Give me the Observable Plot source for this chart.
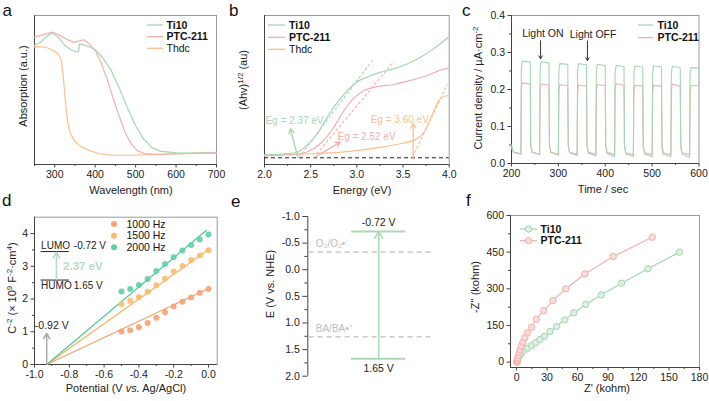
<!DOCTYPE html>
<html><head><meta charset="utf-8">
<script src="https://cdn.jsdelivr.net/npm/d3@7"></script>
<script src="https://cdn.jsdelivr.net/npm/@observablehq/plot@0.6"></script>
<style>
html,body{margin:0;padding:0;background:#fff;}
#root{position:relative;width:709px;height:401px;overflow:hidden;background:#fff;}
#root svg{position:absolute;left:0;top:0;}
</style></head><body><div id="root"></div>
<script>
// ================= DATA =================
// Panel a: UV-vis absorption (normalised), [wavelength nm, absorption]
const aTi10 = [[250,0.80],[265,0.82],[280,0.86],[295,0.885],[310,0.85],[325,0.80],[340,0.77],[355,0.755],[359,0.76],[361,0.81],[375,0.80],[390,0.785],[400,0.77],[420,0.71],[440,0.63],[460,0.51],[480,0.38],[500,0.26],[520,0.17],[540,0.115],[560,0.09],[600,0.078],[700,0.075]];
const aPTC = [[250,0.855],[270,0.87],[294,0.888],[310,0.87],[330,0.84],[348,0.82],[362,0.83],[372,0.837],[385,0.81],[400,0.765],[415,0.68],[430,0.57],[445,0.44],[460,0.32],[475,0.21],[490,0.135],[505,0.092],[520,0.075],[550,0.068],[600,0.072],[700,0.082]];
const aThdc = [[250,0.79],[270,0.79],[285,0.78],[300,0.76],[310,0.735],[316,0.70],[320,0.62],[324,0.50],[328,0.38],[333,0.27],[340,0.20],[350,0.155],[365,0.12],[385,0.095],[410,0.072],[440,0.063],[480,0.062],[550,0.066],[620,0.072],[700,0.08]];
const aTicks = [300,400,500,600,700];
const aMinor = [250,350,450,550,650];

// Panel b: Tauc plot, [energy eV, (Ahv)^1/2 normalised]
const bTi10 = [[2.0,0.065],[2.2,0.07],[2.35,0.082],[2.46,0.128],[2.57,0.206],[2.68,0.318],[2.79,0.418],[2.9,0.497],[3.0,0.553],[3.11,0.586],[3.26,0.62],[3.4,0.642],[3.55,0.676],[3.69,0.72],[3.83,0.776],[4.0,0.859]];
const bPTC = [[2.0,0.058],[2.39,0.072],[2.53,0.105],[2.64,0.161],[2.75,0.25],[2.86,0.362],[2.97,0.447],[3.08,0.497],[3.22,0.523],[3.4,0.537],[3.58,0.564],[3.76,0.597],[3.91,0.635],[4.0,0.649]];
const bThdc = [[2.0,0.06],[2.5,0.072],[2.86,0.085],[3.22,0.112],[3.47,0.139],[3.65,0.172],[3.74,0.228],[3.82,0.34],[3.89,0.43],[3.94,0.456],[4.0,0.463]];
const bBaseline = [0.045];
const bTangents = [
  {s:"Ti10", x1:2.37, y1:0.045, x2:3.17, y2:0.70},
  {s:"PTC-211", x1:2.53, y1:0.045, x2:3.40, y2:0.69},
  {s:"Thdc", x1:3.60, y1:0.045, x2:3.98, y2:0.54}
];
const bArrows = [
  {s:"Ti10", x1:2.36, y1:0.05, x2:2.28, y2:0.24},
  {s:"PTC-211", x1:2.55, y1:0.05, x2:2.82, y2:0.15},
  {s:"Thdc", x1:3.61, y1:0.05, x2:3.61, y2:0.275}
];
const bLabels = [
  {s:"Ti10", x:2.01, y:0.295, text:"Eg = 2.37 eV"},
  {s:"PTC-211", x:2.79, y:0.183, text:"Eg = 2.52 eV"},
  {s:"Thdc", x:3.15, y:0.30, text:"Eg = 3.60 eV"}
];
const bTicks = [2.0,2.5,3.0,3.5,4.0];
const bMinor = [2.25,2.75,3.25,3.75];

// Panel c: photocurrent, time (s) and current density
const cTime = [200,204,220,221,223,240,241,244,260,261,263,280,281,284,300,301,303,320,321,324,340,341,343,360,361,364,380,381,383,400,401,404,420,421,423,440,441,444,460,461,463,480,481,484,500,501,503,520,521,524,540,541,543,560,561,564,580,581,583,600];
const cTi10 = [0.050,0.032,
 0.025,0.255,0.277,0.274,0.050,0.031,
 0.024,0.254,0.275,0.272,0.050,0.030,
 0.023,0.250,0.270,0.268,0.048,0.029,
 0.022,0.250,0.270,0.267,0.048,0.028,
 0.021,0.248,0.268,0.265,0.046,0.027,
 0.019,0.245,0.265,0.262,0.045,0.026,
 0.019,0.243,0.263,0.261,0.045,0.026,
 0.018,0.244,0.264,0.261,0.045,0.025,
 0.018,0.243,0.263,0.259,0.045,0.025,
 0.017,0.240,0.259,0.258];
const cPTC = [0.042,0.030,
 0.026,0.200,0.218,0.214,0.050,0.030,
 0.025,0.198,0.215,0.212,0.050,0.030,
 0.025,0.196,0.213,0.211,0.050,0.030,
 0.025,0.195,0.212,0.209,0.050,0.030,
 0.025,0.196,0.213,0.211,0.050,0.030,
 0.024,0.198,0.216,0.211,0.050,0.029,
 0.024,0.193,0.211,0.210,0.050,0.029,
 0.024,0.193,0.211,0.209,0.050,0.029,
 0.024,0.197,0.215,0.208,0.050,0.029,
 0.024,0.193,0.210,0.211];
const cNotes = [{text:"Light ON", x:267, y:0.35, ax:262, ay1:0.332, ay2:0.283},
                {text:"Light OFF", x:374, y:0.349, ax:362, ay1:0.331, ay2:0.278}];
const cXTicks = [200,300,400,500,600], cXMinor = [250,350,450,550];
const cYTicks = [0,0.1,0.2,0.3,0.4], cYMinor = [0.05,0.15,0.25,0.35];

// Panel d: Mott-Schottky
const dV = [-0.5,-0.45,-0.4,-0.35,-0.3,-0.25,-0.2,-0.15,-0.1,-0.05,0];
const d1000 = [1.01,1.05,1.14,1.27,1.43,1.60,1.77,1.92,2.05,2.19,2.31];
const d1500 = [1.85,1.95,2.06,2.22,2.42,2.62,2.84,3.01,3.19,3.33,3.49];
const d2000 = [2.23,2.31,2.43,2.61,2.86,3.07,3.28,3.48,3.65,3.82,3.97];
const dFits = [
  {f:"1000 Hz", x1:-0.93, y1:0, x2:0, y2:2.32},
  {f:"1500 Hz", x1:-0.93, y1:0, x2:0, y2:3.51},
  {f:"2000 Hz", x1:-0.93, y1:0, x2:-0.01, y2:4.11}
];
const dLevels = [{y:3.45, label:"LUMO", value:"-0.72 V", ty:3.62}, {y:2.58, label:"HUMO", value:"1.65 V", ty:2.40}];
const dLevelX = [-0.962, -0.800];
const dGap = {x:-0.874, y1:2.60, y2:3.43, text:"2.37 eV", tx:-0.836, ty:3.0};
const dFlat = {x:-0.93, y1:0, y2:0.95, text:"-0.92 V", tx:-0.998, ty:1.18};
const dXTicks = [-1.0,-0.8,-0.6,-0.4,-0.2,0.0], dXMinor = [-0.9,-0.7,-0.5,-0.3,-0.1];
const dYTicks = [0,1,2,3,4], dYMinor = [0.5,1.5,2.5,3.5];

// Panel e: band positions (V vs NHE)
const eRedox = [{E:-0.33, label:"O₂/O₂•⁻"}, {E:1.26, label:"BA/BA•⁺"}];
const eCB = [{E:-0.72, label:"-0.72 V"}];
const eVB = [{E:1.67, label:"1.65 V"}];
const eTicks = [-1.0,-0.5,0.0,0.5,1.0,1.5,2.0], eMinor = [-0.75,-0.25,0.25,0.75,1.25,1.75];

// Panel f: Nyquist, Z' and -Z'' (kohm)
const fTi10Z = [0.3,0.7,1.3,2.6,4.6,7.5,10.8,14.8,18.7,23.0,27.5,32.8,39.3,47.5,56.4,67.9,83.3,103.3,129.2,160.3];
const fTi10Y = [0,5,14,25,35,48,57,68,80,93,106,125,146,173,202,236,275,323,382,450];
const fPTCZ = [0.3,0.7,1.0,1.3,2.0,2.6,3.6,4.6,6.2,8.2,10.8,14.8,19.3,26.6,35.7,48.5,67.2,95.1,133.5];
const fPTCY = [0,4,10,18,27,38,52,65,82,100,120,143,175,210,252,300,361,432,511];
const fXTicks = [0,30,60,90,120,150,180], fXMinor = [15,45,75,105,135,165];
const fYTicks = [0,150,300,450,600], fYMinor = [75,225,375,525];

// ================= STYLE =================
const FONT = '"Liberation Sans", Arial, Helvetica, sans-serif';
const COL = {"Ti10":"#a6d6b2", "PTC-211":"#f2b0ae", "Thdc":"#fcbf8e"};
const DCOL = {"1000 Hz":"#f6a274", "1500 Hz":"#fbbb6a", "2000 Hz":"#5fcfa2"};
const DLINE = {"1000 Hz":"#f49f6c", "1500 Hz":"#f8b262", "2000 Hz":"#4fc89c"};
const FRAME = "#9a9a9a", AX = "#444", TXT = "#222";
const root = document.getElementById("root");
function place(o){
  const svg = Plot.plot(Object.assign({width:709, height:401,
    style:{background:"transparent", fontFamily:FONT, fontSize:"10.5px", color:TXT}}, o));
  root.appendChild(svg);
  return svg;
}
const pairs = a => a.map(d => ({x:d[0], y:d[1]}));
const f1 = d => d.toFixed(1);
function boxAxes(xt, xm, yt, ym, xfmt, yfmt){
  const m = [
    Plot.axisX(xt, {tickSize:3.5, tickPadding:3, tickFormat:xfmt, label:null, stroke:AX, fill:TXT, fontSize:10.5}),
    Plot.axisX(xm, {tickSize:2, label:null, stroke:AX, fill:"none"})
  ];
  if (yt) m.push(Plot.axisY(yt, {tickSize:3.5, tickPadding:3, tickFormat:yfmt, label:null, stroke:AX, fill:TXT, fontSize:10.5}));
  if (ym) m.push(Plot.axisY(ym, {tickSize:2, label:null, stroke:AX, fill:"none"}));
  return m;
}

// ---------- panel a ----------
place({
  marginLeft:34, marginRight:493, marginTop:15, marginBottom:237,
  x:{domain:[250,700], axis:null, label:null},
  y:{domain:[0,1], axis:null, label:null},
  marks:[
    Plot.frame({stroke:FRAME}),
    Plot.ruleY([0],{stroke:AX}), Plot.ruleX([250],{stroke:AX}),
    ...boxAxes(aTicks, aMinor, null, null, d=>String(d)),
    Plot.line(pairs(aThdc), {x:"x", y:"y", stroke:COL["Thdc"], strokeWidth:1.2}),
    Plot.line(pairs(aPTC), {x:"x", y:"y", stroke:COL["PTC-211"], strokeWidth:1.2}),
    Plot.line(pairs(aTi10), {x:"x", y:"y", stroke:COL["Ti10"], strokeWidth:1.2})
  ]
});

// ---------- panel b ----------
place({
  marginLeft:264, marginRight:260.3, marginTop:15, marginBottom:237,
  x:{domain:[2.0,4.0], axis:null, label:null},
  y:{domain:[0,1], axis:null, label:null},
  marks:[
    Plot.frame({stroke:FRAME}),
    Plot.ruleY([0],{stroke:AX}), Plot.ruleX([2.0],{stroke:AX}),
    ...boxAxes(bTicks, bMinor, null, null, f1),
    Plot.ruleY(bBaseline, {stroke:"#222", strokeDasharray:"4,3"}),
    Plot.link(bTangents, {x1:"x1", y1:"y1", x2:"x2", y2:"y2", stroke:d=>COL[d.s], strokeDasharray:"3,2", strokeWidth:1.1}),
    Plot.line(pairs(bThdc), {x:"x", y:"y", curve:"monotone-x", stroke:COL["Thdc"], strokeWidth:1.2}),
    Plot.line(pairs(bPTC), {x:"x", y:"y", curve:"monotone-x", stroke:COL["PTC-211"], strokeWidth:1.2}),
    Plot.line(pairs(bTi10), {x:"x", y:"y", curve:"monotone-x", stroke:COL["Ti10"], strokeWidth:1.2}),
    Plot.arrow(bArrows, {x1:"x1", y1:"y1", x2:"x2", y2:"y2", stroke:d=>COL[d.s], strokeWidth:1.3, headLength:6}),
    Plot.text(bLabels, {x:"x", y:"y", text:"text", fill:d=>COL[d.s], textAnchor:"start", fontSize:10})
  ]
});

// ---------- panel c ----------
const cTi10Data = cTime.map((t,i) => ({t, v:cTi10[i]}));
const cPTCData = cTime.map((t,i) => ({t, v:cPTC[i]}));
place({
  marginLeft:511, marginRight:10.5, marginTop:15, marginBottom:238,
  x:{domain:[200,600], axis:null, label:null},
  y:{domain:[0,0.4], axis:null, label:null},
  marks:[
    Plot.frame({stroke:FRAME}),
    Plot.ruleY([0],{stroke:AX}), Plot.ruleX([200],{stroke:AX}),
    ...boxAxes(cXTicks, cXMinor, cYTicks, cYMinor, d=>String(d), f1),
    Plot.line(cPTCData, {x:"t", y:"v", stroke:COL["PTC-211"], strokeWidth:1.1}),
    Plot.line(cTi10Data, {x:"t", y:"v", stroke:COL["Ti10"], strokeWidth:1.1}),
    Plot.arrow(cNotes, {x1:"ax", y1:"ay1", x2:"ax", y2:"ay2", stroke:"#333", strokeWidth:1, headLength:5}),
    Plot.text(cNotes, {x:"x", y:"y", text:"text", fill:TXT, fontSize:10.5})
  ]
});

// ---------- panel d ----------
const dData = [];
dV.forEach((v,i) => { dData.push({v, c:d1000[i], f:"1000 Hz"}); dData.push({v, c:d1500[i], f:"1500 Hz"}); dData.push({v, c:d2000[i], f:"2000 Hz"}); });
place({
  marginLeft:34, marginRight:492.3, marginTop:216.7, marginBottom:37,
  x:{domain:[-1.0,0.05], axis:null, label:null},
  y:{domain:[0,4.5], axis:null, label:null},
  marks:[
    Plot.frame({stroke:FRAME}),
    Plot.ruleY([0],{stroke:AX}), Plot.ruleX([-1.0],{stroke:AX}),
    ...boxAxes(dXTicks, dXMinor, dYTicks, dYMinor, f1, d=>String(d)),
    Plot.link(dFits, {x1:"x1", y1:"y1", x2:"x2", y2:"y2", stroke:d=>DLINE[d.f], strokeWidth:1.2}),
    Plot.dot(dData, {x:"v", y:"c", r:3, fill:d=>DCOL[d.f], fillOpacity:0.9}),
    Plot.ruleY(dLevels, {y:"y", x1:dLevelX[0], x2:dLevelX[1], stroke:"#222", strokeWidth:1}),
    Plot.text(dLevels, {x:dLevelX[0], y:"ty", text:"label", textAnchor:"start", fill:TXT, fontSize:10}),
    Plot.text(dLevels, {x:dLevelX[1], y:"ty", text:"value", textAnchor:"start", dx:4.5, fill:TXT, fontSize:10}),
    Plot.arrow([dGap], {x1:"x", y1:"y1", x2:"x", y2:"y2", stroke:"#b9d9c2", strokeWidth:1.6, headLength:6}),
    Plot.text([dGap], {x:"tx", y:"ty", text:"text", textAnchor:"start", fill:"#b5dbc0", fontWeight:"bold", fontSize:11.5}),
    Plot.arrow([dFlat], {x1:"x", y1:"y1", x2:"x", y2:"y2", stroke:"#aaaaaa", strokeWidth:1.5, headLength:6}),
    Plot.text([dFlat], {x:"tx", y:"ty", text:"text", textAnchor:"start", fill:TXT, fontSize:10.5})
  ]
});

// ---------- panel e ----------
place({
  marginLeft:307.3, marginRight:269, marginTop:216, marginBottom:25.3,
  x:{domain:[0,1], axis:null, label:null},
  y:{domain:[-1,2], reverse:true, axis:null, label:null},
  marks:[
    Plot.ruleX([0], {y1:-1, y2:2, stroke:AX}),
    Plot.axisY(eTicks, {tickSize:5, tickPadding:3, tickFormat:f1, label:null, stroke:AX, fill:TXT, fontSize:10.5}),
    Plot.axisY(eMinor, {tickSize:3, label:null, stroke:AX, fill:"none"}),
    Plot.ruleY(eRedox, {y:"E", x1:0.01, x2:0.95, stroke:"#bdbdbd", strokeDasharray:"5,4", strokeWidth:1.2}),
    Plot.text(eRedox, {x:0.06, y:"E", dy:-8, text:"label", textAnchor:"start", fill:"#bdbdbd", fontSize:10}),
    Plot.ruleY(eCB.concat(eVB), {y:"E", x1:0.33, x2:0.737, stroke:"#a9d9b2", strokeWidth:2}),
    Plot.arrow([{y1:eVB[0].E, y2:eCB[0].E}], {x1:0.534, x2:0.534, y1:"y1", y2:"y2", stroke:"#a9d9b2", strokeWidth:1.5, headLength:8}),
    Plot.text(eCB, {x:0.534, y:"E", dy:-9, text:"label", fill:TXT, fontSize:10.5}),
    Plot.text(eVB, {x:0.534, y:"E", dy:10, text:"label", fill:TXT, fontSize:10.5})
  ]
});

// ---------- panel f ----------
const fTi10 = fTi10Z.map((z,i)=>({z, y:fTi10Y[i]}));
const fPTC = fPTCZ.map((z,i)=>({z, y:fPTCY[i]}));
place({
  marginLeft:510, marginRight:10, marginTop:215, marginBottom:34,
  x:{domain:[-6,180], axis:null, label:null},
  y:{domain:[-22,600], axis:null, label:null},
  marks:[
    Plot.frame({stroke:FRAME}),
    Plot.ruleY([-22],{stroke:AX}), Plot.ruleX([-6],{stroke:AX}),
    ...boxAxes(fXTicks, fXMinor, fYTicks, fYMinor, d=>String(d), d=>String(d)),
    Plot.line(fTi10, {x:"z", y:"y", stroke:COL["Ti10"], strokeWidth:1.2}),
    Plot.dot(fTi10, {x:"z", y:"y", r:3.2, fill:"#dcefe1", stroke:COL["Ti10"], strokeWidth:1}),
    Plot.line(fPTC, {x:"z", y:"y", stroke:COL["PTC-211"], strokeWidth:1.2}),
    Plot.dot(fPTC, {x:"z", y:"y", r:3.2, fill:"#fadcdb", stroke:COL["PTC-211"], strokeWidth:1})
  ]
});

// ================= OVERLAY: titles, legends, panel letters =================
const ov = d3.select(root).append("svg").attr("width",709).attr("height",401)
  .style("font-family", FONT).attr("fill", TXT);

function title(x, y, parts, rotate){
  const t = ov.append("text").attr("text-anchor","middle").attr("font-size",11).attr("fill",TXT);
  if (rotate) t.attr("transform",`translate(${x},${y}) rotate(-90)`).attr("dy","0.35em");
  else t.attr("x",x).attr("y",y);
  parts.forEach(p => {
    const s = t.append("tspan").text(p.t);
    if (p.sup) s.attr("baseline-shift","super").attr("font-size",8);
    if (p.it) s.attr("font-style","italic");
  });
}
title(23, 86, [{t:"Absorption (a.u.)"}], true);
title(131, 194, [{t:"Wavelength (nm)"}]);
title(243.5, 80, [{t:"(Ahv)"},{t:"1/2",sup:true},{t:" (au)"}], true);
title(362, 194, [{t:"Energy (eV)"}]);
title(478, 88, [{t:"Current density / µA·cm"},{t:"-2",sup:true}], true);
title(603, 192.5, [{t:"Time / sec"}]);
title(12, 288, [{t:"C"},{t:"-2",sup:true},{t:" (× 10"},{t:"9",sup:true},{t:" F"},{t:"-2",sup:true},{t:"·cm"},{t:"4",sup:true},{t:")"}], true);
title(126, 392, [{t:"Potential (V "},{t:"vs.",it:true},{t:" Ag/AgCl)"}]);
title(270, 284, [{t:"E (V vs. NHE)"}], true);
title(475, 287, [{t:"-Z'' (kohm)"}], true);
title(607, 392, [{t:"Z' (kohm)"}]);

function legendLine(x1, x2, tx, y, label, color, bold, dot){
  ov.append("line").attr("x1",x1).attr("x2",x2).attr("y1",y).attr("y2",y).attr("stroke",color).attr("stroke-width",1.3);
  if (dot) ov.append("circle").attr("cx",(x1+x2)/2).attr("cy",y).attr("r",3.2).attr("fill",dot).attr("stroke",color);
  ov.append("text").attr("x",tx).attr("y",y).attr("dy","0.35em").attr("font-size",10.5)
    .attr("font-weight", bold ? "bold" : "normal").attr("fill","#111").text(label);
}
const legA = [{s:"Ti10", y:25, b:true}, {s:"PTC-211", y:36.7, b:true}, {s:"Thdc", y:48.3, b:false}];
legA.forEach(d => legendLine(147, 163, 166.5, d.y, d.s, COL[d.s], d.b));
const legB = [{s:"Ti10", y:25, b:true}, {s:"PTC-211", y:37.3, b:true}, {s:"Thdc", y:49.3, b:false}];
legB.forEach(d => legendLine(268, 285, 289, d.y, d.s, COL[d.s], d.b));
const legC = [{s:"Ti10", y:25}, {s:"PTC-211", y:37.7}];
legC.forEach(d => legendLine(638, 653, 657.5, d.y, d.s, COL[d.s], true));
const legD = [{f:"1000 Hz", y:224}, {f:"1500 Hz", y:235.7}, {f:"2000 Hz", y:247.3}];
legD.forEach(d => {
  ov.append("circle").attr("cx",114).attr("cy",d.y).attr("r",3).attr("fill",DCOL[d.f]);
  ov.append("text").attr("x",126.5).attr("y",d.y).attr("dy","0.35em").attr("font-size",10.5).attr("fill","#111").text(d.f);
});
const legF = [{s:"Ti10", y:229, fill:"#dcefe1"}, {s:"PTC-211", y:240.7, fill:"#fadcdb"}];
legF.forEach(d => legendLine(520, 537, 540.5, d.y, d.s, COL[d.s], true, d.fill));

const letters = [["a",2.5,16],["b",229,16],["c",462,16],["d",2,206],["e",231,207],["f",466,206]];
letters.forEach(([t,x,y]) => ov.append("text").attr("x",x).attr("y",y).attr("font-size",17).attr("fill","#111").text(t));
</script></body></html>
